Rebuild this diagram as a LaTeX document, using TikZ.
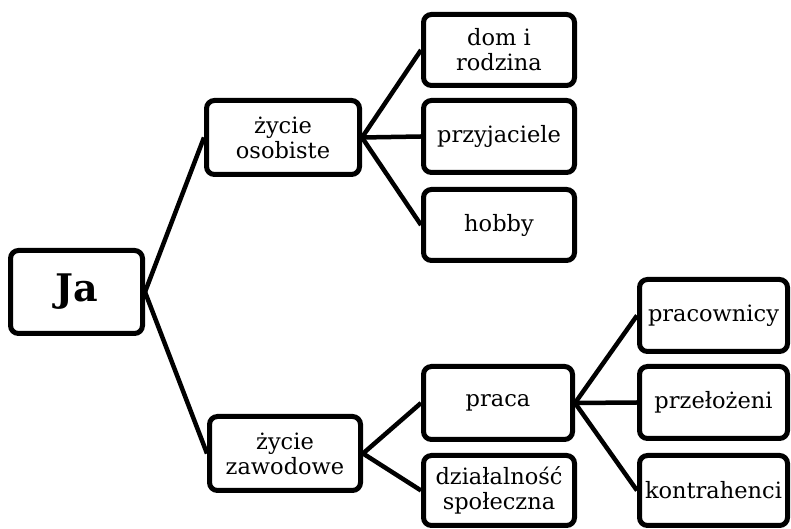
\documentclass[tikz,border=0pt]{standalone}
\usepackage{fontspec}
\setmainfont{DejaVu Serif}
\begin{document}
\begin{tikzpicture}[x=1pt,y=1pt,
  box/.style={draw, line width=5pt, rounded corners=8pt, fill=white,
    minimum width=151pt, minimum height=73pt, inner sep=0pt, align=center,
    font=\fontsize{22.5}{25}\selectfont},
  link/.style={line width=4.5pt}]
\useasboundingbox (0,0) rectangle (791,529);
\node[box, minimum width=132pt, minimum height=83pt, font=\fontsize{38}{42}\selectfont\bfseries] (ja) at (76.5,237) {Ja};
\node[box, minimum width=153pt, minimum height=74pt] (os) at (283,391.5) {życie\\osobiste};
\node[box, minimum height=74pt] (za) at (285,75.5) {życie\\zawodowe};
\node[box, minimum height=71pt] (dom) at (499,479) {dom i\\rodzina};
\node[box, minimum height=72pt] (prz) at (499,392.5) {przyjaciele};
\node[box, minimum height=71pt] (hob) at (499,304) {hobby};
\node[box, minimum width=149pt] (pra) at (498,126) {praca};
\node[box, minimum height=70pt] (dzi) at (499,38.5) {działalność\\społeczna};
\node[box, minimum width=148pt, minimum height=72pt] (prc) at (713.5,213.5) {pracownicy};
\node[box, minimum width=148pt, minimum height=72pt] (prl) at (713.5,126.5) {przełożeni};
\node[box, minimum width=148pt, minimum height=70pt] (kon) at (713.5,38.5) {kontrahenci};
\draw[link] (ja.east) -- (os.west);
\draw[link] (ja.east) -- (za.west);
\draw[link] (os.east) -- (dom.west);
\draw[link] (os.east) -- (prz.west);
\draw[link] (os.east) -- (hob.west);
\draw[link] (za.east) -- (pra.west);
\draw[link] (za.east) -- (dzi.west);
\draw[link] (pra.east) -- (prc.west);
\draw[link] (pra.east) -- (prl.west);
\draw[link] (pra.east) -- (kon.west);
\end{tikzpicture}
\end{document}
